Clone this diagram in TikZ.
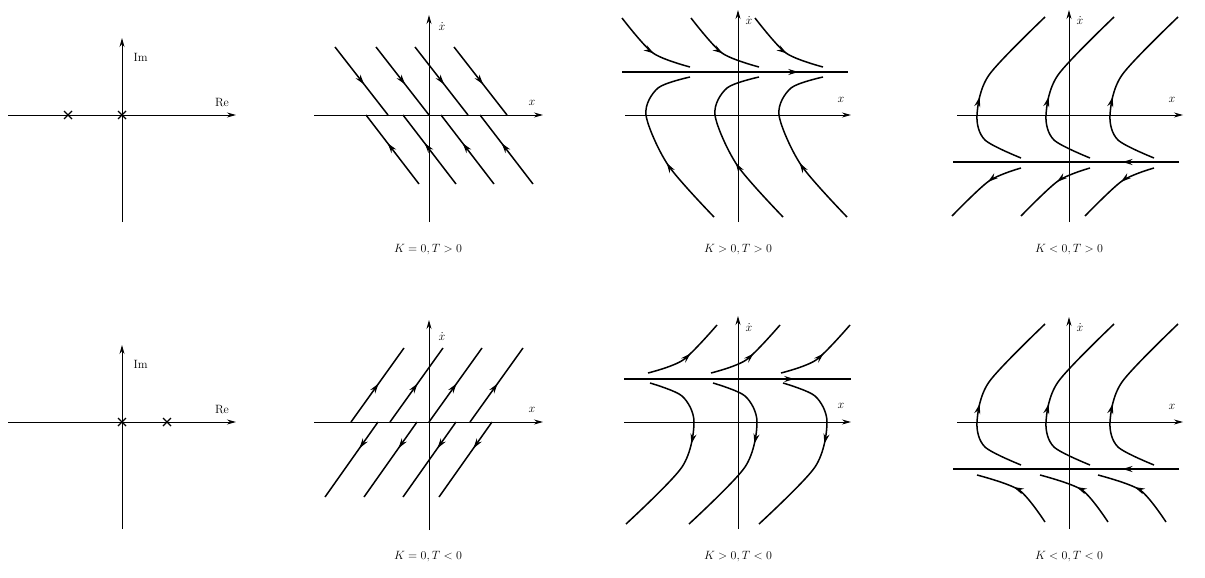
\documentclass[tikz,border=0pt]{standalone}
\usetikzlibrary{arrows.meta,decorations.markings}
\begin{document}
\begin{tikzpicture}[x=1pt,y=-1pt,
  axis/.style={line width=0.9pt,-{Stealth[length=9pt,width=5pt]}},
  traj/.style={line width=1.5pt},
  marr/.style={postaction={decorate},decoration={markings,mark=at position #1 with {\arrow{Stealth[length=10pt,width=6pt]}}}},
  captxt/.style={font=\fontsize{12}{14}\selectfont},
  lab/.style={font=\fontsize{12}{14}\selectfont},
  crs/.style={line width=1.2pt}]
\useasboundingbox (0,0) rectangle (1205,578);
% ---------- panel 1 ----------
\foreach \oy/\cx in {115/-54,422/45}{
\begin{scope}[shift={(122,\oy)}]
  \draw[axis] (-114,0) -- (114,0);
  \draw[axis] (0,107) -- (0,-77);
  \node[lab,anchor=west] (im\oy) at (8,-58) {Im};
  \node[lab] (re\oy) at (100,-12) {Re};
  \foreach \c in {0,\cx}{\draw[crs] (\c-4,-4) -- (\c+4,4) (\c-4,4) -- (\c+4,-4);}
\end{scope}}
% ---------- panel 2 top ----------
\begin{scope}[shift={(429,115)}]
  \draw[axis] (-115,0) -- (114,0);
  \draw[axis] (0,107) -- (0,-100);
  \node[lab] (xd2) at (13,-88) {$\dot x$};
  \node[lab] (x2) at (103,-12) {$x$};
  \foreach \a in {-94,-53,-14,25}{\draw[traj,marr=0.55] (\a,-68) -- (\a+53,0);}
  \foreach \a in {-63,-26,12,51}{\draw[traj,marr=0.59] (\a+53,69) -- (\a,0);}
\end{scope}
\node[captxt] (c2) at (428,250) {$K=0,T>0$};
% ---------- panel 2 bottom ----------
\begin{scope}[shift={(429,422)}]
  \draw[axis] (-115,0) -- (114,0);
  \draw[axis] (0,108) -- (0,-102);
  \node[lab] (xd2b) at (13,-85) {$\dot x$};
  \node[lab] (x2b) at (103,-12) {$x$};
  \foreach \a in {-78,-39,0,41}{\draw[traj,marr=0.52] (\a,0) -- (\a+53,-74);}
  \foreach \a in {-51,-12,27,63}{\draw[traj,marr=0.35] (\a,0) -- (\a-53,75);}
\end{scope}
\node[captxt] (c2b) at (428,557) {$K=0,T<0$};
% ---------- panel 3 top ----------
\begin{scope}[shift={(738,115)}]
  \draw[axis] (-113,0) -- (113,0);
  \draw[axis] (0,107) -- (0,-105);
  \node[lab] (xd3) at (11,-94) {$\dot x$};
  \node[lab] (x3) at (103,-15) {$x$};
  \draw[traj,marr=0.78] (-116,-43) -- (110,-43);
  \foreach \s in {0,69,133}{
    \draw[traj,marr=0.55] plot[smooth] coordinates {(-116+\s,-97) (-85+\s,-62) (-48+\s,-48)};
    \draw[traj,marr=0.38] plot[smooth] coordinates {(-24+\s,102) (-70+\s,50) (-92+\s,0) (-80+\s,-27) (-48+\s,-38)};
  }
\end{scope}
\node[captxt] (c3) at (738,250) {$K>0,T>0$};
% ---------- panel 4 top ----------
\begin{scope}[shift={(1069,115)}]
  \draw[axis] (-112,0) -- (114,0);
  \draw[axis] (0,107) -- (0,-105);
  \node[lab] (xd4) at (11,-94) {$\dot x$};
  \node[lab] (x4) at (103,-15) {$x$};
  \draw[traj,marr=0.25] (110,47) -- (-116,47);
  \foreach \s in {0,69,133}{
    \draw[traj,marr=0.45] plot[smooth] coordinates {(-48+\s,43) (-84+\s,25) (-92+\s,0) (-80+\s,-40) (-24+\s,-98)};
    \draw[traj,marr=0.42] plot[smooth] coordinates {(-48+\s,53) (-80+\s,66) (-117+\s,101)};
  }
\end{scope}
\node[captxt] (c4) at (1069,250) {$K<0,T>0$};
% ---------- panel 3 bottom ----------
\begin{scope}[shift={(738,422)}]
  \draw[axis] (-114,0) -- (113,0);
  \draw[axis] (0,107) -- (0,-106);
  \node[lab] (xd3b) at (11,-94) {$\dot x$};
  \node[lab] (x3b) at (103,-16) {$x$};
  \draw[traj,marr=0.75] (-114,-43) -- (113,-43);
  \foreach \s in {0,63,133}{
    \draw[traj,marr=0.55] plot[smooth] coordinates {(-90+\s,-49) (-55+\s,-62) (-21+\s,-97)};
    \draw[traj,marr=0.45] plot[smooth] coordinates {(-88+\s,-39) (-56+\s,-26) (-44+\s,0) (-56+\s,45) (-112+\s,102)};
  }
\end{scope}
\node[captxt] (c3b) at (738,557) {$K>0,T<0$};
% ---------- panel 4 bottom ----------
\begin{scope}[shift={(1069,422)}]
  \draw[axis] (-112,0) -- (114,0);
  \draw[axis] (0,107) -- (0,-105);
  \node[lab] (xd4b) at (11,-94) {$\dot x$};
  \node[lab] (x4b) at (103,-15) {$x$};
  \draw[traj,marr=0.25] (110,47) -- (-116,47);
  \foreach \s in {0,69,133}{
    \draw[traj,marr=0.45] plot[smooth] coordinates {(-48+\s,43) (-84+\s,25) (-92+\s,0) (-80+\s,-40) (-24+\s,-98)};
  }
  \foreach \s in {0,63,121}{
    \draw[traj,marr=0.55] plot[smooth] coordinates {(-24+\s,100) (-50+\s,68) (-92+\s,53)};
  }
\end{scope}
\node[captxt] (c4b) at (1069,557) {$K<0,T<0$};
\end{tikzpicture}
\end{document}
